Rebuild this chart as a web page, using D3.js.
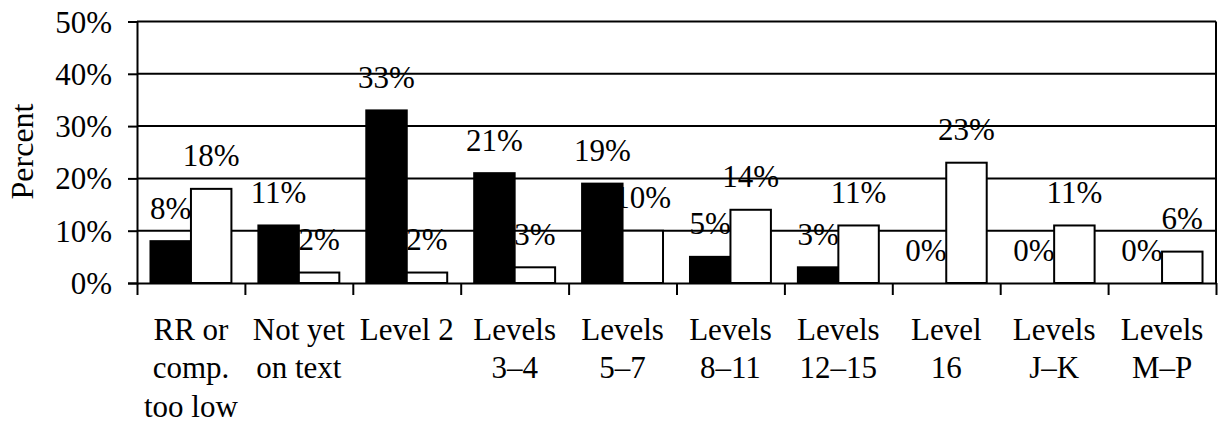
<!DOCTYPE html>
<html>
<head>
<meta charset="utf-8">
<script src="https://cdn.jsdelivr.net/npm/d3@7"></script>
<style>
  html, body { margin: 0; padding: 0; background: #fff; }
  svg { display: block; }
</style>
</head>
<body>
<svg id="chart" width="1219" height="426" font-family="Liberation Serif, serif"></svg>
<script>
// Reading-level categories (lines separated by "\n")
const categories = [
  "RR or\ncomp.\ntoo low",
  "Not yet\non text",
  "Level 2",
  "Levels\n3–4",
  "Levels\n5–7",
  "Levels\n8–11",
  "Levels\n12–15",
  "Level\n16",
  "Levels\nJ–K",
  "Levels\nM–P"
];
// Two groups: solid (black) and open (white) bars, in percent
const solidValues = [8, 11, 33, 21, 19, 5, 3, 0, 0, 0];
const openValues  = [18, 2, 2, 3, 10, 14, 11, 23, 11, 6];
const yTicks = [0, 10, 20, 30, 40, 50];
const yLabel = "Percent";

const SERIF = "'Liberation Serif', serif";

const series = [
  { key: "solid", values: solidValues, fill: "#000" },
  { key: "open",  values: openValues,  fill: "#fff" }
];

const margin = { top: 21.5, right: 3, bottom: 143, left: 137 };
const W = 1219, H = 426;
const innerW = W - margin.left - margin.right;
const innerH = H - margin.top - margin.bottom;

const svg = d3.select("#chart");
const g = svg.append("g").attr("transform", `translate(${margin.left},${margin.top})`);

const x = d3.scaleBand().domain(d3.range(categories.length)).range([0, innerW])
  .paddingInner(0.25).paddingOuter(0.125);
const xSub = d3.scaleBand().domain(series.map(s => s.key)).range([0, x.bandwidth()]);
const xEdge = d3.scaleLinear().domain([0, categories.length]).range([0, innerW]);
const y = d3.scaleLinear().domain([0, 50]).range([innerH, 0]);

const FONT = 31;

// horizontal gridlines (top one doubles as the frame edge)
g.append("g").selectAll("line").data(yTicks.filter(t => t > 0)).join("line")
  .attr("x1", 0).attr("x2", innerW)
  .attr("y1", d => y(d)).attr("y2", d => y(d))
  .attr("stroke", "#000").attr("stroke-width", 2);

// right frame edge
g.append("line").attr("x1", innerW).attr("x2", innerW)
  .attr("y1", y(50)).attr("y2", y(0))
  .attr("stroke", "#000").attr("stroke-width", 2);

// value labels sit beneath the bars so neighbouring bars can cover them
const labelData = [];
series.forEach(s => s.values.forEach((v, i) => labelData.push({ s, v, i })));
g.append("g").selectAll("text").data(labelData).join("text")
  .attr("x", d => x(d.i) + xSub(d.s.key) + xSub.bandwidth() / 2)
  .attr("y", d => y(d.v) - 22.5)
  .attr("text-anchor", "middle")
  .style("font-family", SERIF)
  .style("font-size", FONT + "px")
  .text(d => d.v + "%");

// bars
series.forEach(s => {
  g.append("g").selectAll("rect").data(s.values).join("rect")
    .attr("x", (v, i) => x(i) + xSub(s.key))
    .attr("width", xSub.bandwidth())
    .attr("y", v => y(v))
    .attr("height", v => y(0) - y(v))
    .attr("fill", s.fill)
    .attr("stroke", "#000")
    .attr("stroke-width", v => v > 0 ? 2 : 0);
});

// y axis
const yAxis = g.append("g")
  .call(d3.axisLeft(y).tickValues(yTicks).tickSize(9).tickPadding(16).tickFormat(d => d + "%"));
yAxis.select(".domain").attr("stroke-width", 2);
yAxis.selectAll(".tick line").attr("stroke-width", 2);
yAxis.selectAll(".tick text")
  .style("font-family", SERIF)
  .style("font-size", FONT + "px")
  .attr("dy", "0.34em");

// x axis with ticks at category boundaries
const xAxis = g.append("g").attr("transform", `translate(0,${innerH})`)
  .call(d3.axisBottom(xEdge).tickValues(d3.range(categories.length + 1)).tickSize(12).tickSizeOuter(0).tickFormat(""));
xAxis.select(".domain").attr("stroke-width", 2);
xAxis.selectAll(".tick line").attr("stroke-width", 2);

// category labels
const catG = g.append("g");
categories.forEach((c, i) => {
  const t = catG.append("text")
    .attr("x", x(i) + x.bandwidth() / 2)
    .attr("y", innerH + 56.5)
    .attr("text-anchor", "middle")
    .style("font-family", SERIF)
    .style("font-size", FONT + "px");
  c.split("\n").forEach((line, k) => {
    t.append("tspan")
      .attr("x", x(i) + x.bandwidth() / 2)
      .attr("dy", k === 0 ? 0 : 38.5)
      .text(line);
  });
});

// y axis title
svg.append("text")
  .attr("transform", `translate(33,151.5) rotate(-90)`)
  .attr("text-anchor", "middle")
  .style("font-family", SERIF)
  .style("font-size", "32px")
  .text(yLabel);
</script>
</body>
</html>
